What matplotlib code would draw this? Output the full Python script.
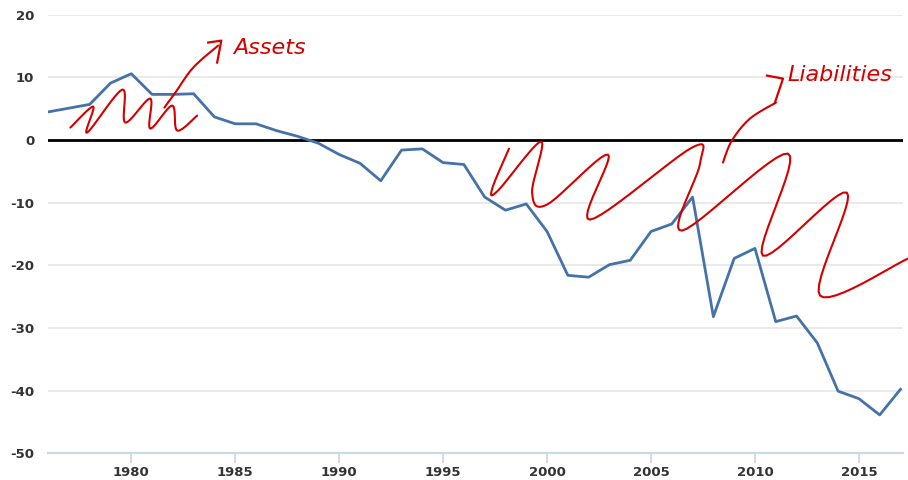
import numpy as np
import matplotlib
matplotlib.use("Agg")
import matplotlib.pyplot as plt

plt.rcParams["axes.unicode_minus"] = False

# yearly values
years = list(range(1976, 2018))
values = [4.5, 5.1, 5.7, 9.1, 10.6, 7.3, 7.3, 7.4, 3.7, 2.6,
          2.6, 1.5, 0.6, -0.5, -2.3, -3.7, -6.5, -1.6, -1.4, -3.6,
          -3.9, -9.1, -11.2, -10.2, -14.6, -21.6, -21.9, -19.9, -19.2, -14.6,
          -13.4, -9.1, -28.2, -18.9, -17.3, -29.0, -28.1, -32.4, -40.1, -41.3,
          -43.9, -39.8]

x_ticks = [1980, 1985, 1990, 1995, 2000, 2005, 2010, 2015]
y_ticks = [-50, -40, -30, -20, -10, 0, 10, 20]

# hand-drawn red scribbles (year, value)
assets_scribble_x = [1977.07, 1978.17, 1977.88, 1979.57, 1979.71, 1980.91, 1980.91, 1981.97, 1982.21, 1983.17]
assets_scribble_y = [2.0, 5.35, 1.2, 8.07, 2.8, 6.63, 1.84, 5.51, 1.52, 3.91]
assets_arrow_x = [1981.59, 1982.12, 1982.98, 1984.18]
assets_arrow_y = [5.19, 7.59, 11.58, 15.1]
assets_head_x = [1983.70, 1984.33, 1984.13]
assets_head_y = [15.58, 15.89, 12.38]

liab_scribble_x = [1998.17, 1997.36, 1997.64, 1999.71, 1999.28, 2000.0, 2002.93, 2002.07,
                   2006.97, 2007.36, 2006.49, 2011.59, 2010.38, 2014.42, 2013.13, 2017.36]
liab_scribble_y = [-1.36, -7.75, -8.07, -0.24, -8.39, -10.3, -2.32, -12.7,
                   -1.2, -3.75, -14.46, -2.16, -18.45, -8.39, -24.84, -18.93]
liab_arrow_x = [2008.46, 2008.89, 2009.76, 2011.01]
liab_arrow_y = [-3.59, -0.08, 3.43, 5.99]
liab_head_x = [2010.58, 2011.35, 2010.96]
liab_head_y = [10.3, 9.82, 5.99]


def smooth(xs, ys, n=12):
    # Catmull-Rom through the traced pen points, for a hand-drawn look
    p = np.column_stack([xs, ys])
    p = np.vstack([p[0], p, p[-1]])
    out = []
    for i in range(1, len(p) - 2):
        p0, p1, p2, p3 = p[i - 1], p[i], p[i + 1], p[i + 2]
        for t in np.linspace(0, 1, n, endpoint=False):
            out.append(0.5 * ((2 * p1) + (-p0 + p2) * t
                              + (2 * p0 - 5 * p1 + 4 * p2 - p3) * t ** 2
                              + (-p0 + 3 * p1 - 3 * p2 + p3) * t ** 3))
    out.append(p[-2])
    out = np.array(out)
    return out[:, 0], out[:, 1]


fig = plt.figure(figsize=(9.08, 4.8), dpi=100)
ax = fig.add_axes([0.053, 0.056, 0.941, 0.913])

ax.plot(years, values, color="#4572A7", lw=2.0, zorder=3)
ax.axhline(0, color="black", lw=2.0, zorder=2)

red = "#d40000"
for sx, sy in [(assets_scribble_x, assets_scribble_y), (assets_arrow_x, assets_arrow_y),
               (liab_scribble_x, liab_scribble_y), (liab_arrow_x, liab_arrow_y)]:
    cx, cy = smooth(sx, sy)
    ax.plot(cx, cy, color=red, lw=1.5, clip_on=False, zorder=4, solid_capstyle="round")
for hx, hy in [(assets_head_x, assets_head_y), (liab_head_x, liab_head_y)]:
    ax.plot(hx, hy, color=red, lw=1.6, clip_on=False, zorder=4, solid_joinstyle="round")

hand = dict(color=red, fontsize=16, style="italic", family="DejaVu Sans",
            va="baseline", ha="left")
ax.text(1984.9, 13.8, "Assets", **hand)
ax.text(2011.55, 9.5, "Liabilities", **hand)

ax.set_xlim(1976, 2017.1)
ax.set_ylim(-50, 20)
ax.set_xticks(x_ticks)
ax.set_yticks(y_ticks)
ax.grid(axis="y", color="#e6e6e6", lw=1.2)
ax.set_axisbelow(True)

for s in ["top", "right", "left"]:
    ax.spines[s].set_visible(False)
ax.spines["bottom"].set_color("#ccd6eb")
ax.spines["bottom"].set_linewidth(1.5)
ax.tick_params(axis="x", colors="#ccd6eb", length=7, width=1.3, labelcolor="#333333",
               labelsize=9.5, pad=2)
ax.tick_params(axis="y", length=0, labelcolor="#333333", labelsize=9.5, pad=10)
for lab in ax.get_xticklabels() + ax.get_yticklabels():
    lab.set_fontweight("semibold")

fig.savefig("out.png", dpi=100)
